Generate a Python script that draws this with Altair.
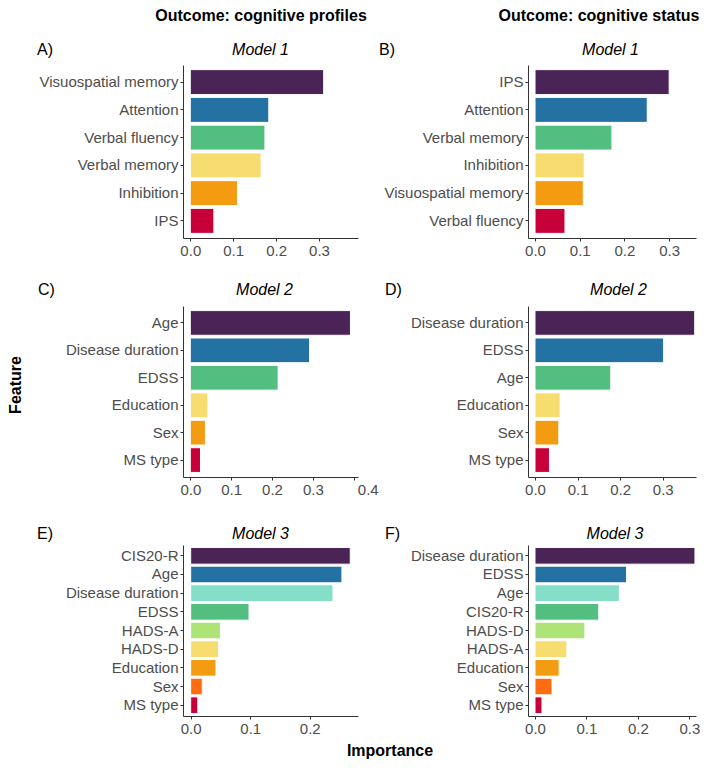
import altair as alt
import pandas as pd

FONT = "Liberation Sans"

# ---------------- data ----------------
headers = ["Outcome: cognitive profiles", "Outcome: cognitive status"]
panel_tags = ["A)", "B)", "C)", "D)", "E)", "F)"]
model_titles = ["Model 1", "Model 1", "Model 2", "Model 2", "Model 3", "Model 3"]
y_title = "Feature"
x_title = "Importance"

feat_A = ["Visuospatial memory", "Attention", "Verbal fluency", "Verbal memory", "Inhibition", "IPS"]
imp_A = [0.311, 0.183, 0.174, 0.165, 0.110, 0.055]

feat_B = ["IPS", "Attention", "Verbal memory", "Inhibition", "Visuospatial memory", "Verbal fluency"]
imp_B = [0.300, 0.251, 0.172, 0.110, 0.108, 0.067]

feat_C = ["Age", "Disease duration", "EDSS", "Education", "Sex", "MS type"]
imp_C = [0.392, 0.292, 0.215, 0.043, 0.037, 0.025]

feat_D = ["Disease duration", "EDSS", "Age", "Education", "Sex", "MS type"]
imp_D = [0.375, 0.302, 0.178, 0.059, 0.056, 0.034]

feat_E = ["CIS20-R", "Age", "Disease duration", "EDSS", "HADS-A", "HADS-D", "Education", "Sex", "MS type"]
imp_E = [0.268, 0.254, 0.239, 0.098, 0.050, 0.047, 0.0425, 0.0195, 0.012]

feat_F = ["Disease duration", "EDSS", "Age", "CIS20-R", "HADS-D", "HADS-A", "Education", "Sex", "MS type"]
imp_F = [0.311, 0.178, 0.164, 0.124, 0.097, 0.062, 0.047, 0.033, 0.0136]

colors6 = ["#4A2357", "#2471A3", "#52BE80", "#F7DC6F", "#F39C12", "#C70039"]
colors9 = ["#4A2357", "#2471A3", "#85DEC8", "#52BE80", "#ADE377", "#F7DC6F", "#F39C12", "#FF6B0F", "#C70039"]

ticks3 = [0.0, 0.1, 0.2, 0.3]
ticks4 = [0.0, 0.1, 0.2, 0.3, 0.4]
ticks2 = [0.0, 0.1, 0.2]


def txt(s, x, y, size, weight="normal", style="normal", align="center",
        baseline="middle", angle=0, color="black"):
    return alt.Chart(pd.DataFrame({"t": [s]})).mark_text(
        font=FONT, fontSize=size, fontWeight=weight, fontStyle=style,
        align=align, baseline=baseline, angle=angle, color=color
    ).encode(text="t:N", x=alt.value(x), y=alt.value(y))


def panel(features, values, colors, domain, ticks, width, height,
          pad_inner, pad_outer, tag, tag_x, title, title_x, lab_y,
          extra=(), label_offset=0):
    df = pd.DataFrame({"feature": features, "importance": values,
                       "colour": colors[:len(features)]})
    xaxis = alt.Axis(values=ticks, format=".1f", title=None, labelPadding=2,
                     labelOffset=label_offset)
    bars = alt.Chart(df).mark_bar(stroke="white", strokeWidth=1).encode(
        x=alt.X("importance:Q",
                scale=alt.Scale(domain=domain, nice=False, zero=False),
                axis=xaxis),
        x2=alt.datum(0),
        y=alt.Y("feature:N", sort=features,
                scale=alt.Scale(paddingInner=pad_inner, paddingOuter=pad_outer),
                axis=alt.Axis(title=None, labelPadding=2)),
        color=alt.Color("colour:N", scale=None),
    )
    layers = [bars,
              txt(tag, tag_x, lab_y, 16, align="left"),
              txt(title, title_x, lab_y, 16, style="italic")]
    layers += list(extra)
    return alt.layer(*layers).properties(width=width, height=height)


LW, RW = 175, 168
H1, H2 = 173, 171

pA = panel(feat_A, imp_A, colors6, [-0.017, 0.391], ticks3, LW, H1, 0.1, 0.167,
           panel_tags[0], -146, model_titles[0], 77.5, -15,
           extra=[txt(headers[0], 78, -57, 16, weight="bold", baseline="top")])
pB = panel(feat_B, imp_B, colors6, [-0.0157, 0.360], ticks3, RW, H1, 0.1, 0.167,
           panel_tags[1], -149, model_titles[1], 82.5, -15,
           extra=[txt(headers[1], 71, -57, 16, weight="bold", baseline="top")])
pC = panel(feat_C, imp_C, colors6, [-0.0179, 0.4105], ticks4, LW, H2, 0.1, 0.167,
           panel_tags[2], -145, model_titles[2], 81.5, -16,
           extra=[txt(y_title, -175, 79, 16, weight="bold", baseline="top", angle=270)],
           label_offset={"condition": {"test": "datum.value > 0.35", "value": 14}, "value": 0})
pD = panel(feat_D, imp_D, colors6, [-0.0164, 0.378], ticks3, RW, H2, 0.1, 0.167,
           panel_tags[3], -143, model_titles[3], 90.5, -16)
pE = panel(feat_E, imp_E, colors9, [-0.0129, 0.281], ticks2, LW, H2, 0.107, 0.133,
           panel_tags[4], -146, model_titles[4], 77.5, -11,
           extra=[txt(x_title, 207, 206, 16, weight="bold")])
pF = panel(feat_F, imp_F, colors9, [-0.0136, 0.313], ticks3, RW, H2, 0.107, 0.133,
           panel_tags[5], -143, model_titles[5], 87, -11)

chart = alt.concat(
    pA, pB, pC, pD, pE, pF, columns=2,
    spacing={"row": 68, "column": 170}, bounds="flush", align="each"
).properties(padding=0).configure(font=FONT).configure_view(
    stroke=None
).configure_axis(
    labelFont=FONT, labelFontSize=15, labelColor="#4D4D4D",
    tickColor="#333333", domainColor="#333333", tickSize=3,
    domainWidth=1, tickWidth=1, grid=False
)

chart.save("out.html", embed_options={"renderer": "svg", "actions": False})
